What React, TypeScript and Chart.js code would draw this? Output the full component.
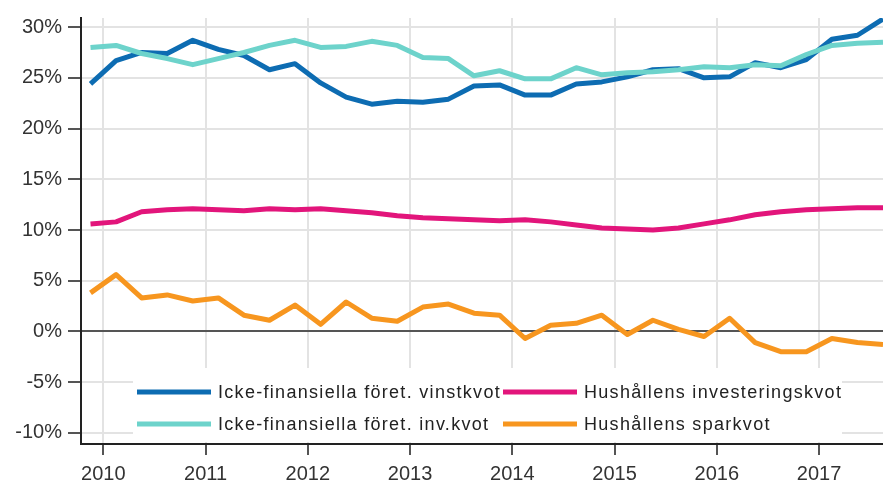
import React, { useEffect, useRef } from 'react';
import { Chart, registerables } from 'chart.js';

Chart.register(...registerables);

const quarters = [
  '2009Q4', '2010Q1', '2010Q2', '2010Q3', '2010Q4', '2011Q1', '2011Q2', '2011Q3',
  '2011Q4', '2012Q1', '2012Q2', '2012Q3', '2012Q4', '2013Q1', '2013Q2', '2013Q3',
  '2013Q4', '2014Q1', '2014Q2', '2014Q3', '2014Q4', '2015Q1', '2015Q2', '2015Q3',
  '2015Q4', '2016Q1', '2016Q2', '2016Q3', '2016Q4', '2017Q1', '2017Q2', '2017Q3',
];

const vinstkvot = [24.4, 26.7, 27.5, 27.4, 28.7, 27.8, 27.2, 25.8, 26.4, 24.5, 23.1, 22.4, 22.7, 22.6, 22.9, 24.2, 24.3, 23.3, 23.3, 24.4, 24.6, 25.1, 25.8, 25.9, 25.0, 25.1, 26.5, 26.0, 26.8, 28.8, 29.2, 30.8];
const invKvot = [28.0, 28.2, 27.4, 26.9, 26.3, 26.9, 27.5, 28.2, 28.7, 28.0, 28.1, 28.6, 28.2, 27.0, 26.9, 25.2, 25.7, 24.9, 24.9, 26.0, 25.3, 25.5, 25.6, 25.8, 26.1, 26.0, 26.3, 26.2, 27.3, 28.2, 28.4, 28.5];
const investeringskvot = [10.6, 10.8, 11.8, 12.0, 12.1, 12.0, 11.9, 12.1, 12.0, 12.1, 11.9, 11.7, 11.4, 11.2, 11.1, 11.0, 10.9, 11.0, 10.8, 10.5, 10.2, 10.1, 10.0, 10.2, 10.6, 11.0, 11.5, 11.8, 12.0, 12.1, 12.2, 12.2];
const sparkvot = [3.8, 5.6, 3.3, 3.6, 3.0, 3.3, 1.6, 1.1, 2.6, 0.7, 2.9, 1.3, 1.0, 2.4, 2.7, 1.8, 1.6, -0.7, 0.6, 0.8, 1.6, -0.3, 1.1, 0.2, -0.5, 1.3, -1.1, -2.0, -2.0, -0.7, -1.1, -1.3];

const yearTicks = [2010, 2011, 2012, 2013, 2014, 2015, 2016, 2017];
const percentTicks = [-10, -5, 0, 5, 10, 15, 20, 25, 30];

const seriesLabels = [
  'Icke-finansiella föret. vinstkvot',
  'Icke-finansiella föret. inv.kvot',
  'Hushållens investeringskvot',
  'Hushållens sparkvot',
];
const seriesColors = ['#0d6cb2', '#6dd3cb', '#e2157b', '#f7961f'];

const qToX = (q: string) => {
  const year = parseInt(q.slice(0, 4), 10);
  const n = parseInt(q.slice(5), 10);
  return year + (n - 1) * 0.25 + 0.125;
};

const toPoints = (vals: number[]) => vals.map((v, i) => ({ x: qToX(quarters[i]), y: v }));

const FONT = '"Liberation Sans", Arial, sans-serif';

const legendPlugin = {
  id: 'boxLegend',
  beforeDatasetsDraw(chart: any) {
    const { ctx, chartArea } = chart;
    ctx.save();
    ctx.fillStyle = '#ffffff';
    const bx = chartArea.left + 52;
    const by = 368;
    ctx.fillRect(bx, by, 842 - bx, chartArea.bottom - 2 - by);
    const items: [number, number, number][] = [
      [0, 0, 0],
      [2, 1, 0],
      [1, 0, 1],
      [3, 1, 1],
    ];
    const colX = [137, 503];
    const rowY = [392, 424];
    ctx.font = `18px ${FONT}`;
    ctx.textBaseline = 'middle';
    ctx.textAlign = 'left';
    try { (ctx as any).letterSpacing = '1.3px'; } catch (e) {}
    items.forEach(([di, c, r]) => {
      const x = colX[c];
      const y = rowY[r];
      ctx.strokeStyle = seriesColors[di];
      ctx.lineWidth = 5;
      ctx.lineCap = 'butt';
      ctx.beginPath();
      ctx.moveTo(x, y);
      ctx.lineTo(x + 74, y);
      ctx.stroke();
      ctx.fillStyle = '#222';
      ctx.fillText(seriesLabels[di], x + 81, y + 1);
    });
    ctx.restore();
  },
};

export default function App() {
  const ref = useRef<HTMLCanvasElement | null>(null);
  useEffect(() => {
    if (!ref.current) return;
    const chart = new Chart(ref.current, {
      type: 'line',
      data: {
        datasets: [
          { label: seriesLabels[0], data: toPoints(vinstkvot), borderColor: seriesColors[0], order: 1 },
          { label: seriesLabels[1], data: toPoints(invKvot), borderColor: seriesColors[1], order: 0 },
          { label: seriesLabels[2], data: toPoints(investeringskvot), borderColor: seriesColors[2], order: 2 },
          { label: seriesLabels[3], data: toPoints(sparkvot), borderColor: seriesColors[3], order: 3 },
        ].map((d) => ({
          ...d,
          borderWidth: 5,
          pointRadius: 0,
          tension: 0,
          fill: false,
          borderJoinStyle: 'round' as const,
        })),
      },
      plugins: [legendPlugin],
      options: {
        animation: false,
        responsive: false,
        maintainAspectRatio: false,
        layout: { padding: { top: 15, right: 0, left: 0, bottom: 0 } },
        plugins: { legend: { display: false }, tooltip: { enabled: false } },
        scales: {
          x: {
            type: 'linear',
            min: 2009.782,
            max: 2017.625,
            afterBuildTicks: (scale: any) => {
              scale.ticks = yearTicks.map((v) => ({ value: v }));
            },
            afterFit: (scale: any) => {
              scale.height = 43;
            },
            ticks: {
              font: { family: FONT, size: 20 },
              color: '#333',
              padding: 7,
              maxRotation: 0,
              autoSkip: false,
              callback: (v: any) => String(v),
            },
            grid: {
              color: '#e3e3e3',
              lineWidth: 2,
              tickColor: '#555',
              tickLength: 11,
            },
            border: { color: '#222', width: 2 },
          },
          y: {
            min: -11.1,
            max: 30.9,
            afterBuildTicks: (scale: any) => {
              scale.ticks = percentTicks.map((v) => ({ value: v }));
            },
            afterFit: (scale: any) => {
              scale.width = 81;
            },
            ticks: {
              font: { family: FONT, size: 20 },
              color: '#333',
              padding: 6,
              callback: (v: any) => `${v}%`,
            },
            grid: {
              color: (c: any) => (c.tick && c.tick.value === 0 ? '#555' : '#e3e3e3'),
              lineWidth: 2,
              tickColor: '#555',
              tickLength: 13,
            },
            border: { color: '#222', width: 2 },
          },
        },
      } as any,
    });
    return () => chart.destroy();
  }, []);
  return (
    <div style={{ position: 'absolute', left: 0, top: 0, width: 883, height: 487, background: '#fff' }}>
      <canvas ref={ref} width={883} height={487} style={{ display: 'block', width: 883, height: 487 }} />
    </div>
  );
}
